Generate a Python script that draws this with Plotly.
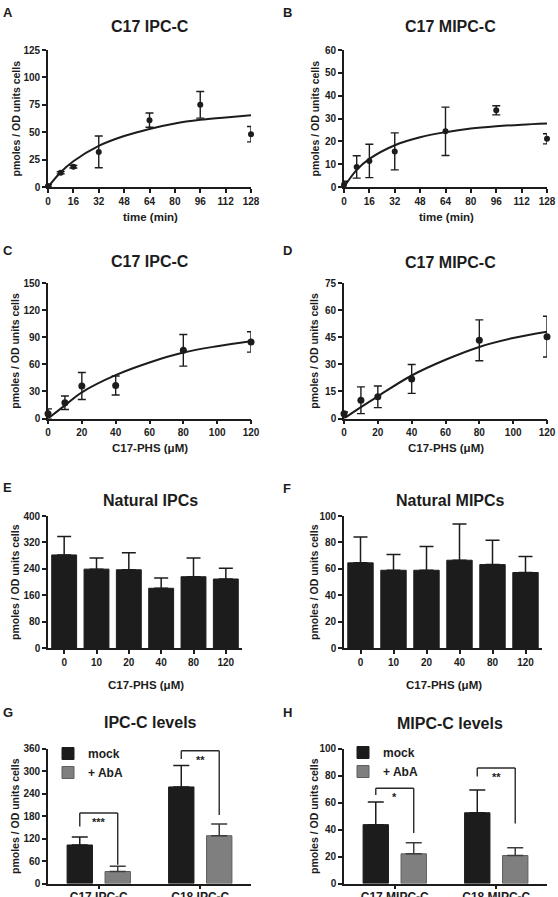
import plotly.graph_objects as go

W, H = 558, 897
FONT = "Liberation Sans, Arial, Helvetica, sans-serif"
INK = "#1c1c1c"
GREY = "#7f7f7f"

# ---------------- data ----------------
# A: C17 IPC-C vs time
timeA = [0, 8, 16, 32, 64, 96, 128]
ipcA = [1, 13, 18.5, 32, 61, 75, 48.2]
ipcA_err = [1, 1, 1.2, 14.5, 6.5, 12.2, 7]
curve_t = [0, 8, 16, 32, 48, 64, 80, 96, 112, 128]
ipcA_fit = [0, 13.5, 23.5, 37.5, 46.5, 53, 58, 61.3, 63.5, 65.5]

# B: C17 MIPC-C vs time
mipcB = [1, 8.8, 11.4, 15.6, 24.4, 33.6, 21.1]
mipcB_err = [1.5, 4.9, 7.3, 8.1, 10.6, 2, 2.2]
mipcB_fit = [0, 7.5, 12.3, 18.3, 21.8, 24, 25.6, 26.6, 27.3, 27.8]

# C: C17 IPC-C vs C17-PHS
phs = [0, 10, 20, 40, 80, 120]
ipcC = [5.2, 17.4, 36, 36.5, 75.5, 84.8]
ipcC_err = [5.5, 7.5, 15, 10.5, 17.5, 11.3]
curve_phs = [0, 10, 20, 40, 60, 80, 100, 120]
ipcC_fit = [0, 14.5, 29, 48, 62, 73, 80, 85.5]

# D: C17 MIPC-C vs C17-PHS
mipcD = [2.6, 10.1, 12, 21.9, 43.3, 45.3]
mipcD_err = [1, 7.4, 6, 8, 11.3, 11.3]
mipcD_fit = [0, 6.3, 12.3, 23.8, 32.5, 39.6, 44.5, 48]

# E / F: natural IPCs / MIPCs
phs_cat = ["0", "10", "20", "40", "80", "120"]
natIPC = [282, 239, 237, 181, 216, 209]
natIPC_err = [56, 34, 52, 31, 57, 33]
natMIPC = [64.5, 58.9, 58.9, 66.5, 63.2, 57.2]
natMIPC_err = [19.6, 11.9, 17.9, 27.5, 18.4, 12.1]

# G / H: levels mock vs + AbA
catG = ["C17 IPC-C", "C18 IPC-C"]
G_mock = [102.7, 257.5]
G_mock_err = [21.3, 57.5]
G_aba = [32, 127.4]
G_aba_err = [14, 31]
catH = ["C17 MIPC-C", "C18 MIPC-C"]
H_mock = [43.6, 52.4]
H_mock_err = [16.7, 16.9]
H_aba = [22, 20.7]
H_aba_err = [8.2, 5.7]

# significance brackets (value levels)
G_top = [188, 354]
G_left = [152, 332]
G_right = [50, 183]
G_star = ["***", "**"]
H_top = [70.6, 85.5]
H_left = [65.6, 79.3]
H_right = [37.5, 44.4]
H_star = ["*", "**"]

# ---------------- layout helpers ----------------
def fx(px):
    return px / W

def fy(py):
    return 1 - py / H

COLS = [(48, 251), (344, 547)]
ROWS = [(50, 187), (283, 418.5), (516, 648), (748.5, 883.5)]

fig = go.Figure()

tickfont = dict(family=FONT, size=10, color=INK, weight="bold")
axis_base = dict(showline=True, linecolor=INK, linewidth=1.6, ticks="outside",
                 ticklen=4, tickwidth=1.5, tickcolor=INK, showgrid=False,
                 zeroline=False, tickfont=tickfont, fixedrange=True)

def set_axes(n, col, row, xopts, yopts, cols=None):
    xs = "xaxis" if n == 1 else f"xaxis{n}"
    ys = "yaxis" if n == 1 else f"yaxis{n}"
    c0, c1 = cols if cols else COLS[col]
    r0, r1 = ROWS[row]
    xa = dict(axis_base, domain=[fx(c0), fx(c1)], anchor="y" if n == 1 else f"y{n}")
    xa.update(xopts)
    ya = dict(axis_base, domain=[fy(r1), fy(r0)], anchor="x" if n == 1 else f"x{n}")
    ya.update(yopts)
    fig.update_layout({xs: xa, ys: ya})

def ax(n):
    return ("x" if n == 1 else f"x{n}", "y" if n == 1 else f"y{n}")

def scatter_panel(n, xv, yv, err, cx, cy, msize):
    xa, ya = ax(n)
    fig.add_trace(go.Scatter(x=cx, y=cy, mode="lines", line=dict(color=INK, width=2, shape="spline"),
                             xaxis=xa, yaxis=ya, showlegend=False, cliponaxis=False, hoverinfo="skip"))
    fig.add_trace(go.Scatter(x=xv, y=yv, mode="markers",
                             marker=dict(color=INK, size=msize),
                             error_y=dict(type="data", array=err, visible=True, color=INK,
                                          thickness=1.4, width=4),
                             xaxis=xa, yaxis=ya, showlegend=False, cliponaxis=False))

# A
scatter_panel(1, timeA, ipcA, ipcA_err, curve_t, ipcA_fit, 6)
set_axes(1, 0, 0, dict(range=[0, 128], tick0=0, dtick=16),
         dict(range=[0, 125], tick0=0, dtick=25))
# B
scatter_panel(2, timeA, mipcB, mipcB_err, curve_t, mipcB_fit, 6)
set_axes(2, 1, 0, dict(range=[0, 128], tick0=0, dtick=16),
         dict(range=[0, 60], tick0=0, dtick=10))
# C
scatter_panel(3, phs, ipcC, ipcC_err, curve_phs, ipcC_fit, 7)
set_axes(3, 0, 1, dict(range=[0, 120], tick0=0, dtick=20),
         dict(range=[0, 150], tick0=0, dtick=30))
# D
scatter_panel(4, phs, mipcD, mipcD_err, curve_phs, mipcD_fit, 7)
set_axes(4, 1, 1, dict(range=[0, 120], tick0=0, dtick=20),
         dict(range=[0, 75], tick0=0, dtick=15))

def upper_err(err, color, width):
    return dict(type="data", array=err, arrayminus=[0 for _ in err], symmetric=False,
                visible=True, color=color, thickness=1.5, width=width)

# E
fig.add_trace(go.Bar(x=phs_cat, y=natIPC, marker=dict(color=INK, line=dict(color=INK, width=1)),
                     error_y=upper_err(natIPC_err, INK, 7), xaxis="x5", yaxis="y5", showlegend=False))
set_axes(5, 0, 2, dict(type="category", range=[-0.5, 5.5]),
         dict(range=[0, 400], tick0=0, dtick=80), cols=(48, 242))
# F
fig.add_trace(go.Bar(x=phs_cat, y=natMIPC, marker=dict(color=INK, line=dict(color=INK, width=1)),
                     error_y=upper_err(natMIPC_err, INK, 7), xaxis="x6", yaxis="y6", showlegend=False))
set_axes(6, 1, 2, dict(type="category", range=[-0.5, 5.5]),
         dict(range=[0, 100], tick0=0, dtick=20), cols=(344, 542))

BW = 0.25       # bar width in G/H
HALF = 0.187    # bar centre distance from group centre

def group_panel(n, cats, mock, mock_err, aba, aba_err, legend_name):
    xa, ya = ax(n)
    fig.add_trace(go.Bar(x=cats, y=mock, name="mock", width=BW, offset=-HALF - BW / 2,
                         marker=dict(color=INK, line=dict(color=INK, width=1)),
                         error_y=upper_err(mock_err, INK, 8), xaxis=xa, yaxis=ya,
                         legend=legend_name, showlegend=True))
    fig.add_trace(go.Bar(x=cats, y=aba, name="+ AbA", width=BW, offset=HALF - BW / 2,
                         marker=dict(color=GREY, line=dict(color="#5e5e5e", width=1)),
                         error_y=upper_err(aba_err, "#3c3c3c", 8), xaxis=xa, yaxis=ya,
                         legend=legend_name, showlegend=True))

catfont = dict(family=FONT, size=12, color=INK, weight="bold")
group_panel(7, catG, G_mock, G_mock_err, G_aba, G_aba_err, "legend")
set_axes(7, 0, 3, dict(type="category", range=[-0.5, 1.5], tickfont=catfont, ticklabelstandoff=-3),
         dict(range=[0, 360], tick0=0, dtick=60))
group_panel(8, catH, H_mock, H_mock_err, H_aba, H_aba_err, "legend2")
set_axes(8, 1, 3, dict(type="category", range=[-0.5, 1.5], tickfont=catfont, ticklabelstandoff=-3),
         dict(range=[0, 100], tick0=0, dtick=20))

# brackets
shapes = []
annos = []
def brackets(n, tops, lefts, rights, stars):
    xa, ya = ax(n)
    for i in range(len(tops)):
        xl = i - HALF
        xr = i + HALF
        ln = dict(color="#2a2a2a", width=1.4)
        shapes.append(dict(type="line", xref=xa, yref=ya, x0=xl, x1=xl, y0=lefts[i], y1=tops[i], line=ln))
        shapes.append(dict(type="line", xref=xa, yref=ya, x0=xl, x1=xr, y0=tops[i], y1=tops[i], line=ln))
        shapes.append(dict(type="line", xref=xa, yref=ya, x0=xr, x1=xr, y0=tops[i], y1=rights[i], line=ln))
        annos.append(dict(xref=xa, yref=ya, x=i, y=tops[i], text=stars[i], showarrow=False,
                          xanchor="center", yanchor="top", yshift=-1,
                          font=dict(family=FONT, size=11, color="#222222", weight="bold")))

brackets(7, G_top, G_left, G_right, G_star)
brackets(8, H_top, H_left, H_right, H_star)

def text(px, py, s, size, angle=0, anchor="center"):
    annos.append(dict(xref="paper", yref="paper", x=fx(px), y=fy(py), text=s, showarrow=False,
                      xanchor=anchor, yanchor="middle", textangle=angle,
                      font=dict(family=FONT, size=size, color=INK, weight="bold")))

# panel letters
for (lx, ly, L) in [(1, 13, "A"), (281, 13, "B"), (1, 250, "C"), (281, 251, "D"),
                    (1, 487, "E"), (281, 488, "F"), (1, 712, "G"), (281, 712, "H")]:
    text(lx, ly, L, 13, anchor="left")

# titles
for (tx, ty, T) in [(150, 27, "C17 IPC-C"), (450, 27, "C17 MIPC-C"),
                    (150, 261, "C17 IPC-C"), (450, 263, "C17 MIPC-C"),
                    (150, 500, "Natural IPCs"), (450, 500, "Natural MIPCs"),
                    (150, 722, "IPC-C levels"), (450, 723, "MIPC-C levels")]:
    text(tx, ty, T, 16)

# y axis titles
YT = "pmoles / OD units cells"
for row in range(4):
    r0, r1 = ROWS[row]
    text(15, (r0 + r1) / 2, YT, 10.5, angle=-90)
    text(314, (r0 + r1) / 2, YT, 10.5, angle=-90)

# x axis titles
for (xc, yc, T) in [(150, 217, "time (min)"), (446, 217, "time (min)"),
                    (150, 448, "C17-PHS (μM)"), (446, 448, "C17-PHS (μM)"),
                    (146, 685, "C17-PHS (μM)"), (444, 685, "C17-PHS (μM)")]:
    text(xc, yc, T, 11.5)

legend_style = dict(font=dict(family=FONT, size=12, color=INK, weight="bold"),
                    bgcolor="rgba(0,0,0,0)", borderwidth=0, itemwidth=30,
                    xanchor="left", yanchor="top", traceorder="normal", tracegroupgap=0)

fig.update_layout(
    width=W, height=H, margin=dict(l=0, r=0, t=0, b=0),
    paper_bgcolor="white", plot_bgcolor="white", template="none",
    barmode="overlay", bargap=0.23,
    font=dict(family=FONT, color=INK),
    shapes=shapes, annotations=annos,
    legend=dict(legend_style, x=fx(48), y=fy(739)),
    legend2=dict(legend_style, x=fx(343), y=fy(738)),
)

fig.write_html("out.html")
